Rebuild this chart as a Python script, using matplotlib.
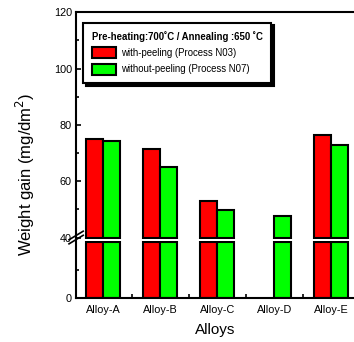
import numpy as np
import matplotlib.pyplot as plt
from matplotlib.ticker import MultipleLocator

plt.rcParams['font.family'] = ['Liberation Sans', 'DejaVu Sans']

# data
alloys = ['Alloy-A', 'Alloy-B', 'Alloy-C', 'Alloy-D', 'Alloy-E']
with_peeling = [75.1, 71.5, 52.9, np.nan, 76.4]      # Process N03
without_peeling = [74.4, 65.0, 49.9, 47.8, 73.0]     # Process N07

BREAK = 40
x = np.arange(len(alloys))
w = 0.3
red, green = '#ff0000', '#00ff00'
wp = np.array(with_peeling)
wo = np.array(without_peeling)

fig = plt.figure(figsize=(3.54, 3.42), dpi=100)
ax_top = fig.add_axes([0.2147, 0.301, 0.7853, 0.663])
ax_bot = fig.add_axes([0.2147, 0.1287, 0.7853, 0.1666])

# upper part of the bars starts at the break
ax_top.bar(x - w / 2, wp - BREAK, w, bottom=BREAK, color=red, edgecolor='black', lw=1.5,
           label='with-peeling (Process N03)')
ax_top.bar(x + w / 2, wo - BREAK, w, bottom=BREAK, color=green, edgecolor='black', lw=1.5,
           label='without-peeling (Process N07)')
# lower part capped at the break
ax_bot.bar(x - w / 2, np.minimum(wp, BREAK), w, color=red, edgecolor='black', lw=1.5)
ax_bot.bar(x + w / 2, np.minimum(wo, BREAK), w, color=green, edgecolor='black', lw=1.5)

for ax in (ax_top, ax_bot):
    ax.set_xlim(-0.48, 4.4)
    ax.spines['right'].set_visible(False)
    for s in ax.spines.values():
        s.set_linewidth(1.5)
    ax.tick_params(axis='both', which='both', direction='in', labelsize=7.8, width=1.2)
    ax.tick_params(which='major', length=3.5)
    ax.tick_params(which='minor', length=2.5)

ax_top.set_ylim(BREAK - 0.5, 120)
ax_top.set_yticks([40, 60, 80, 100, 120])
ax_top.yaxis.set_minor_locator(MultipleLocator(10))
ax_top.spines['bottom'].set_visible(False)
ax_top.tick_params(axis='x', which='both', bottom=False, labelbottom=False)
ax_top.tick_params(axis='y', pad=3)

ax_bot.set_ylim(0, BREAK + 0.8)
ax_bot.set_yticks([0])
ax_bot.set_yticks([20], minor=True)
ax_bot.spines['top'].set_visible(False)
ax_bot.set_xticks(x)
ax_bot.set_xticklabels(alloys)
ax_bot.set_xticks(x[:-1] + 0.5, minor=True)
ax_bot.tick_params(axis='x', which='major', length=0, pad=5)
ax_bot.tick_params(axis='x', which='minor', length=3)
ax_bot.tick_params(axis='y', pad=3)

# break mark on the left spine
for dy in (0.0, 0.012):
    fig.add_artist(plt.Line2D([0.195, 0.235], [0.287 + dy, 0.312 + dy],
                              color='black', lw=1.2, transform=fig.transFigure))

ax_bot.set_xlabel('Alloys', fontsize=11, labelpad=6)
fig.text(0.072, 0.49, 'Weight gain (mg/dm$^2$)', rotation=90, fontsize=12,
         ha='center', va='center')

leg = ax_top.legend(loc='upper left', bbox_to_anchor=(0.025, 0.955), borderaxespad=0,
                    title='Pre-heating:700˚C / Annealing :650 ˚C',
                    title_fontproperties={'weight': 'bold', 'size': 6.9},
                    fontsize=6.9, fancybox=False, shadow={'color': 'black', 'alpha': 1},
                    edgecolor='black', framealpha=1, handlelength=2.6, handleheight=1.4,
                    handletextpad=0.5, labelspacing=0.55, borderpad=0.9)
leg._legend_box.align = 'left'
leg.get_frame().set_linewidth(1.5)

fig.savefig('out.png', dpi=100)
